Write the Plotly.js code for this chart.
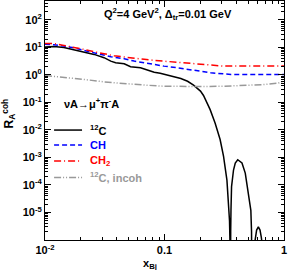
<!DOCTYPE html>
<html>
<head>
<meta charset="utf-8">
<script src="https://cdn.plot.ly/plotly-3.0.1.min.js"></script>
<style>html,body{margin:0;padding:0;background:#fff;}#chart{width:296px;height:270px;}</style>
</head>
<body>
<div id="chart"></div>
<script>
// ---- data ----
const xC12 = [0.01, 0.0119, 0.0144, 0.0175, 0.0212, 0.0258, 0.0312, 0.0355, 0.039, 0.046, 0.052, 0.063, 0.074, 0.082, 0.092, 0.105, 0.12, 0.137, 0.156, 0.175, 0.2, 0.212, 0.241, 0.265, 0.292, 0.312, 0.333, 0.343, 0.35, 0.354, 0.356, 0.358, 0.36, 0.364, 0.378, 0.391, 0.41, 0.445, 0.474, 0.5, 0.528, 0.535, 0.54, 0.548, 0.56, 0.575, 0.59, 0.61, 0.63, 0.645, 0.655, 0.67];
const yC12 = [10.4, 10.8, 10.0, 8.4, 7.0, 5.6, 4.25, 3.2, 2.8, 2.56, 2.0, 1.82, 1.46, 1.25, 1.15, 1.0, 0.9, 0.74, 0.59, 0.43, 0.26, 0.18, 0.055, 0.018, 0.0045, 0.0011, 1.5e-4, 2.9e-5, 5e-6, 5e-7, 1e-9, 2e-6, 1.2e-5, 8.7e-5, 3.5e-4, 6.3e-4, 8.3e-4, 6.3e-4, 2.7e-4, 6.6e-5, 1.2e-5, 2e-6, 1e-9, 1e-7, 5e-7, 1.1e-6, 2.3e-6, 3.0e-6, 2.3e-6, 1.3e-6, 8e-7, 1e-9];

const xCH = [0.01, 0.0119, 0.0144, 0.0175, 0.0212, 0.0258, 0.0312, 0.0355, 0.046, 0.0557, 0.0676, 0.082, 0.099, 0.128, 0.177, 0.244, 0.36, 0.5, 0.7, 1.0];
const yCH = [13.2, 12.6, 11.2, 9.8, 7.8, 6.5, 5.3, 4.6, 3.9, 3.2, 2.8, 2.4, 2.1, 1.83, 1.46, 1.2, 1.05, 1.04, 1.04, 1.04];

const xCH2 = [0.01, 0.0119, 0.0144, 0.0175, 0.0212, 0.0258, 0.0312, 0.0378, 0.046, 0.0557, 0.0676, 0.082, 0.099, 0.128, 0.177, 0.244, 0.316, 0.5, 0.7, 1.0];
const yCH2 = [14.1, 13.8, 11.9, 10.3, 8.5, 7.0, 5.9, 5.0, 4.5, 4.0, 3.7, 3.4, 3.2, 2.9, 2.56, 2.28, 2.1, 2.1, 2.1, 2.1];

const xInc = [0.01, 0.0144, 0.0212, 0.0312, 0.046, 0.0676, 0.099, 0.146, 0.215, 0.316, 0.465, 0.684, 0.883, 1.0];
const yInc = [0.95, 0.83, 0.69, 0.56, 0.48, 0.43, 0.39, 0.38, 0.38, 0.39, 0.41, 0.45, 0.5, 0.59];

const xTickVals = [0.01, 0.1, 1];
const xTickText = ['10<sup>-2</sup>', '0.1', '1'];
const yTickVals = [1e-5, 1e-4, 1e-3, 1e-2, 1e-1, 1, 10, 100];
const yTickText = ['10<sup>-5</sup>', '10<sup>-4</sup>', '10<sup>-3</sup>', '10<sup>-2</sup>', '10<sup>-1</sup>', '10<sup>0</sup>', '10<sup>1</sup>', '10<sup>2</sup>'];

const seriesNames = ['<sup>12</sup>C', 'CH', 'CH<sub>2</sub>', '<sup>12</sup>C, incoh'];
const seriesColors = ['#000000', '#0000ff', '#ff0000', '#999999'];
const seriesDash = ['solid', '5px,3px', '7px,3px,1px,3px', '7px,2px,1px,2px,1px,2px'];

// minor tick positions (2..9 per decade)
function minorTicks(lo, hi) {
  const v = [];
  for (let e = lo; e < hi; e++) for (let m = 2; m <= 9; m++) v.push(m * Math.pow(10, e));
  return v;
}

const FONT = 'Liberation Sans, Arial, Helvetica, sans-serif';
const xs = [xC12, xCH, xCH2, xInc];
const ys = [yC12, yCH, yCH2, yInc];
const traces = xs.map((x, i) => ({
  x: x, y: ys[i], type: 'scatter', mode: 'lines', name: seriesNames[i],
  line: {color: seriesColors[i], width: 1.5, dash: seriesDash[i]},
  showlegend: false, cliponaxis: true
}));

const legY = [0.460, 0.397, 0.331, 0.262];
const shapes = legY.map((y, i) => ({
  type: 'line', xref: 'paper', yref: 'paper', x0: 0.038, x1: 0.155, y0: y, y1: y,
  line: {color: seriesColors[i], width: 1.5, dash: seriesDash[i]}
}));
const annotations = legY.map((y, i) => ({
  xref: 'paper', yref: 'paper', x: 0.18, y: y, xanchor: 'left', yanchor: 'middle',
  text: seriesNames[i], showarrow: false,
  font: {family: FONT, size: 11, color: seriesColors[i], weight: 'bold'}
}));
annotations.push(
  {xref: 'paper', yref: 'paper', x: 0.071, y: 0.573, xanchor: 'left', yanchor: 'middle', showarrow: false,
   text: 'νA→μ<sup>+</sup>π<sup>-</sup>A', font: {family: FONT, size: 11, color: '#000', weight: 'bold'}},
  {xref: 'paper', yref: 'paper', x: 0.238, y: 0.946, xanchor: 'left', yanchor: 'middle', showarrow: false,
   text: 'Q<sup>2</sup>=4 GeV<sup>2</sup>, Δ<sub>tr</sub>=0.01 GeV', font: {family: FONT, size: 11, color: '#000', weight: 'bold'}},
  {xref: 'paper', yref: 'paper', x: 0.44, y: -0.1, xanchor: 'center', yanchor: 'middle', showarrow: false,
   text: 'x<sub>Bj</sub>', font: {family: FONT, size: 11, color: '#000', weight: 'bold'}},
  {xref: 'paper', yref: 'paper', x: -0.15, y: 0.53, xanchor: 'center', yanchor: 'middle', showarrow: false, textangle: -90,
   text: 'R<sub>A</sub><sup>coh</sup>', font: {family: FONT, size: 12, color: '#000', weight: 'bold'}}
);

const axisCommon = {
  type: 'log', showgrid: false, zeroline: false, showline: true, linecolor: '#000', linewidth: 1,
  mirror: 'allticks', ticks: 'inside', ticklen: 6, tickcolor: '#000', tickwidth: 1,
  tickfont: {family: FONT, size: 11, color: '#000', weight: 'bold'}
};

const layout = {
  width: 296, height: 270,
  margin: {l: 45, r: 12, t: 1, b: 30},
  paper_bgcolor: '#fff', plot_bgcolor: '#fff',
  showlegend: false,
  xaxis: Object.assign({}, axisCommon, {
    range: [-2, 0], tickmode: 'array', tickvals: xTickVals, ticktext: xTickText,
    minor: {tickmode: 'array', tickvals: minorTicks(-2, 0), ticks: 'inside', ticklen: 3, tickcolor: '#000', showgrid: false}
  }),
  yaxis: Object.assign({}, axisCommon, {
    range: [-6, 2.69], tickmode: 'array', tickvals: yTickVals, ticktext: yTickText,
    minor: {tickmode: 'array', tickvals: minorTicks(-6, 3), ticks: 'inside', ticklen: 3, tickcolor: '#000', showgrid: false}
  }),
  shapes: shapes,
  annotations: annotations
};

Plotly.newPlot('chart', traces, layout, {staticPlot: true, displayModeBar: false});
</script>
</body>
</html>
